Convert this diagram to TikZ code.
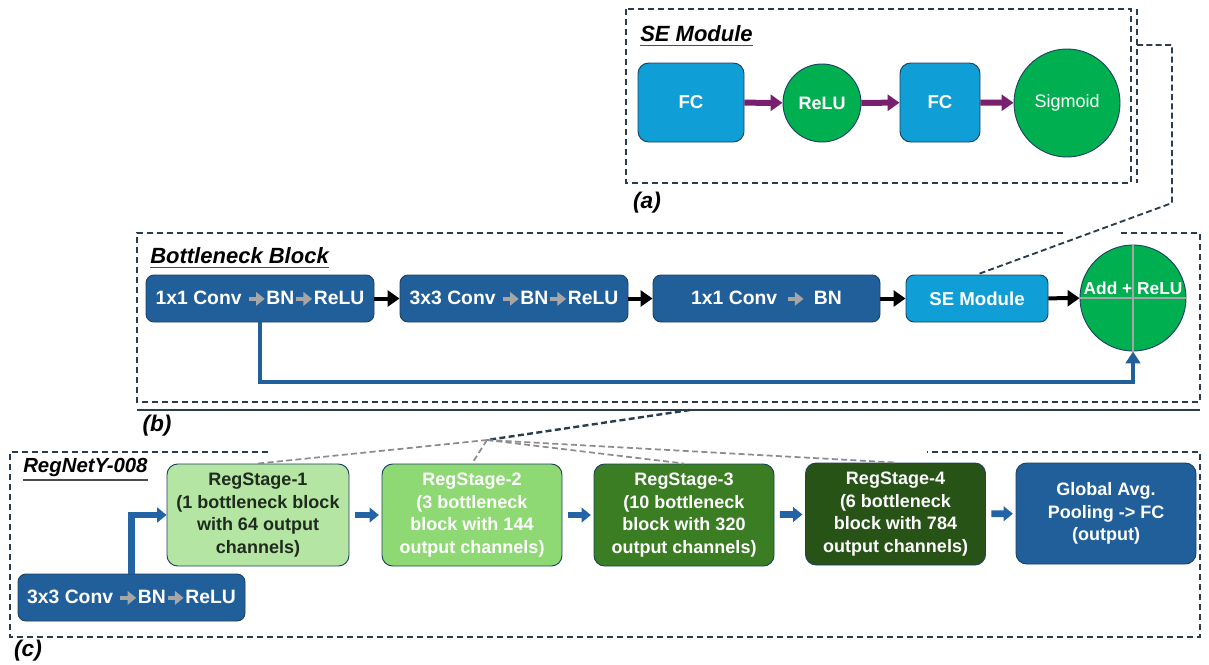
\documentclass[tikz,border=0pt]{standalone}
\usepackage{fontspec}
\setmainfont{Liberation Sans}
\usetikzlibrary{arrows.meta,shapes.geometric}
\definecolor{dblue}{HTML}{215F9A}
\definecolor{lblue}{HTML}{0F9ED5}
\definecolor{cgreen}{HTML}{00B050}
\definecolor{gA}{HTML}{B4E5A2}
\definecolor{gB}{HTML}{8ED973}
\definecolor{gC}{HTML}{3A7D22}
\definecolor{gD}{HTML}{275317}
\definecolor{edgec}{HTML}{1D4260}
\definecolor{purp}{HTML}{78206E}
\definecolor{dashc}{HTML}{2B3D4C}
\definecolor{fanc}{HTML}{8C8C8C}
\definecolor{garrc}{HTML}{A6A6A6}
\definecolor{darktext}{HTML}{1E2B1E}
\definecolor{arrblue}{HTML}{2364A5}
\newcommand{\garr}{\tikz[baseline=-0.6ex]\draw[garrc,line width=2.6pt,-{Triangle[length=6.5pt,width=10pt]}](0pt,0pt)--(12pt,0pt);}
\begin{document}
\begin{tikzpicture}[x=0.75pt,y=-0.75pt,
  box/.style={draw=edgec,line width=0.7pt,rounded corners=6pt,text=white,align=center,inner sep=0pt,font=\fontsize{13.5}{16.8}\selectfont\bfseries},
  dbox/.style={box,fill=dblue,minimum height=47*0.75pt,font=\fontsize{14.5}{17}\selectfont\bfseries},
  stage/.style={box,rounded corners=8pt,minimum height=102*0.75pt,minimum width=180*0.75pt},
  grn/.style={draw=edgec,line width=0.7pt,fill=cgreen,text=white,inner sep=0pt,font=\fontsize{13.5}{16}\selectfont\bfseries},
  ttl/.style={font=\fontsize{16.5}{19}\selectfont\bfseries\itshape,anchor=west,inner sep=0pt},
  lab/.style={font=\fontsize{17}{20}\selectfont\bfseries\itshape,inner sep=0pt},
  uline/.style={black!70,line width=1.2pt},
  panel/.style={draw=dashc,line width=1.1pt,dash pattern=on 4.5pt off 3pt},
  blk/.style={line width=3pt,-{Triangle[length=9pt,width=12pt]}},
  parr/.style={purp,line width=4.5pt,-{Triangle[length=9pt,width=12pt]}},
  barr/.style={arrblue,line width=5pt,-{Triangle[length=7pt,width=11pt]}},
  skip/.style={dblue,line width=3pt,-{Triangle[length=9pt,width=11pt]}},
  fan/.style={fanc,line width=1.3pt,dash pattern=on 4.5pt off 2.5pt},
  dkfan/.style={dashc,line width=1.8pt,dash pattern=on 4.5pt off 2.5pt}
]
\useasboundingbox (0,0) rectangle (1209,664);

% ---------------- (a) SE module ----------------
\draw[panel] (626,9) rectangle (1131,183);
\draw[panel] (1137,9) -- (1137,183);
\node[ttl] (tSE) at (640,34) {SE Module};
\draw[uline] ([yshift=-2.5pt]tSE.south west) -- ([yshift=-2.5pt]tSE.south east);
\node[box,fill=lblue,rounded corners=8pt,minimum width=106*0.75pt,minimum height=79*0.75pt,font=\fontsize{14}{16}\selectfont\bfseries] (fc1) at (691,102.5) {FC};
\node[grn,circle,minimum size=78*0.75pt] (relu) at (822,103) {ReLU};
\node[box,fill=lblue,rounded corners=8pt,minimum width=80*0.75pt,minimum height=79*0.75pt,font=\fontsize{14}{16}\selectfont\bfseries] (fc2) at (940,102.5) {FC};
\node[grn,ellipse,minimum width=106*0.75pt,minimum height=108*0.75pt,font=\fontsize{13.5}{16}\selectfont] (sig) at (1067,103) {Sigmoid};
\draw[parr] (fc1) -- (relu);
\draw[parr] (relu) -- (fc2);
\draw[parr] (fc2) -- (sig);
\node[lab] (la) at (647,203) {(a)};

% ---------------- (b) Bottleneck block ----------------
\draw[panel] (1063,233) -- (137,233) -- (137,402) -- (1200,402) -- (1200,233) -- (1120,233);
\draw[dashc,line width=1.6pt] (137,410) -- (1200,410);
\node[ttl] (tBN) at (150,256) {Bottleneck Block};
\draw[uline] ([yshift=-2.5pt]tBN.south west) -- ([yshift=-2.5pt]tBN.south east);
\node[dbox,minimum width=228*0.75pt] (b1) at (260,298.5) {1x1 Conv \garr BN\garr ReLU};
\node[dbox,minimum width=228*0.75pt] (b2) at (514,298.5) {3x3 Conv \garr BN\garr ReLU};
\node[dbox,minimum width=227*0.75pt] (b3) at (766.5,298.5) {1x1 Conv \,\garr\, BN};
\node[box,fill=lblue,minimum width=142*0.75pt,minimum height=47*0.75pt,font=\fontsize{14}{16}\selectfont\bfseries] (se) at (977,298.5) {SE Module};
\node[grn,circle,minimum size=106*0.75pt] (add) at (1133,298) {};
\draw[black!35,line width=0.9pt] (add.north) -- (add.south) (add.west) -- (add.east);
\node[text=white,font=\fontsize{13}{15}\selectfont\bfseries,inner sep=0pt] (addt) at (1133,288) {Add + ReLU};
\draw[blk] (b1) -- (b2);
\draw[blk] (b2) -- (b3);
\draw[blk] (b3) -- (se);
\draw[blk] (se) -- (add);
\draw[skip] (b1.south) -- (260,382) -- (1133,382) -- (add.south);
\node[lab] (lb) at (157,426) {(b)};

% SE connector
\coordinate (c1) at (1137,45);
\coordinate (c2) at (1172,45);
\coordinate (c3) at (1172,203);
\draw[dkfan,line width=1.4pt] (c1) -- (c2) -- (c3) -- (se.north);

% ---------------- (c) RegNetY-008 ----------------
\draw[panel] (268,452) -- (10,452) -- (10,637) -- (1200,637) -- (1200,452) -- (927,452);
\node[ttl,font=\fontsize{15.3}{18}\selectfont\bfseries\itshape] (tRN) at (23,467) {RegNetY-008};
\draw[uline] ([yshift=-2.5pt]tRN.south west) -- ([yshift=-2.5pt]tRN.south east);
\node[dbox,minimum width=227*0.75pt] (stem) at (131.5,597.5) {3x3 Conv \garr BN\garr ReLU};
\node[stage,fill=gA,text=darktext,minimum width=182*0.75pt] (r1) at (258,515) {RegStage-1\\(1 bottleneck block\\with 64 output\\channels)};
\node[stage,fill=gB] (r2) at (472,515) {RegStage-2\\(3 bottleneck\\block with 144\\output channels)};
\node[stage,fill=gC] (r3) at (684,515) {RegStage-3\\(10 bottleneck\\block with 320\\output channels)};
\node[stage,fill=gD] (r4) at (895.5,514) {RegStage-4\\(6 bottleneck\\block with 784\\output channels)};
\node[stage,fill=dblue,minimum height=101*0.75pt] (gap) at (1106,513.5) {Global Avg.\\Pooling -> FC\\(output)};
\draw[barr] (stem.north) |- (r1.west);
\draw[barr,shorten <=4pt,shorten >=2pt] (r1) -- (r2);
\draw[barr,shorten <=4pt,shorten >=2pt] (r2) -- (r3);
\draw[barr,shorten <=4pt,shorten >=2pt] (r3) -- (r4);
\draw[barr,shorten <=4pt,shorten >=2pt] (r4) -- (gap);
\node[lab] (lc) at (28,651) {(c)};

% fan-out from bottleneck block
\coordinate (f0) at (690,410);
\coordinate (fp) at (487,440);
\draw[dkfan] (f0) -- (fp);
\draw[fan] (fp) -- (r1.north);
\draw[fan] (fp) -- (r2.north);
\draw[fan] (fp) -- (r3.north);
\draw[fan] (fp) -- (r4.north);
\end{tikzpicture}
\end{document}
